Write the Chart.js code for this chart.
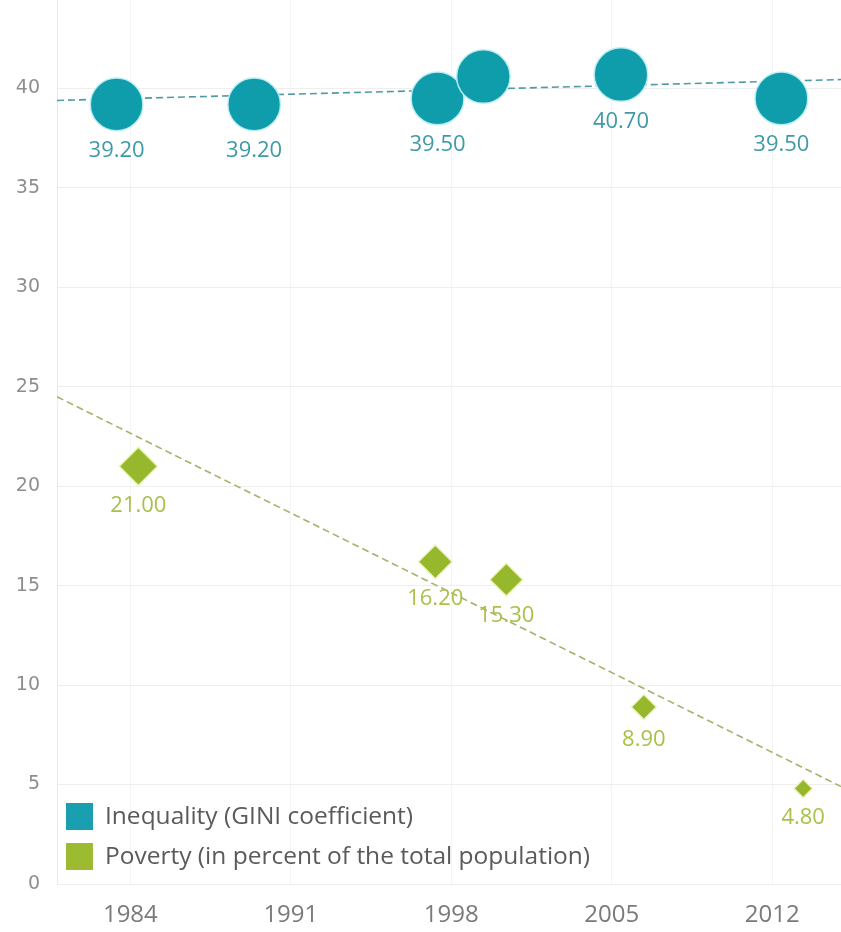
<!DOCTYPE html>
<html>
<head>
<meta charset="utf-8">
<script src="https://cdn.jsdelivr.net/npm/chart.js@4.4.1/dist/chart.umd.min.js"></script>
<style>
  html, body { margin: 0; padding: 0; background: #ffffff; }
  canvas { display: block; }
</style>
</head>
<body>
<canvas id="chart" width="841" height="932"></canvas>
<script>
// Survey years (fractional: survey date within the year) and values
const giniYears = [1983.4, 1989.4, 1997.4, 1999.4, 2005.4, 2012.4];
const giniValues = [39.2, 39.2, 39.5, 40.6, 40.7, 39.5];
const povertyYears = [1984.35, 1997.3, 2000.4, 2006.4, 2013.35];
const povertyValues = [21.0, 16.2, 15.3, 8.9, 4.8];

// Linear trend lines, start and end of the year range
const trendYears = [1980.8, 2015.0];
const giniTrend = [39.4, 40.45];
const povertyTrend = [24.5, 4.9];

// Axis ticks
const yearTicks = [1984, 1991, 1998, 2005, 2012];
const valueTicks = [0, 5, 10, 15, 20, 25, 30, 35, 40];

const seriesNames = ['Inequality (GINI coefficient)', 'Poverty (in percent of the total population)'];

const TEAL = '#0f9dab';
const GREEN = '#97b82c';

// marks are sized by value (area proportional to the value)
const markSize = v => 4.2 * Math.sqrt(v);

const toPoints = (xs, ys) => xs.map((x, i) => ({ x: x, y: ys[i] }));

function boxesOverlap(a, b) {
  return !(a.r < b.l || b.r < a.l || a.b < b.t || b.b < a.t);
}
function markHitsBox(m, box) {
  const nx = Math.max(box.l, Math.min(m.x, box.r));
  const ny = Math.max(box.t, Math.min(m.y, box.b));
  return Math.hypot(m.x - nx, m.y - ny) < m.r;
}

// value labels under each mark; a label that would collide is left out
const valueLabels = {
  id: 'valueLabels',
  afterDatasetsDraw(chart) {
    const ctx = chart.ctx;
    const marks = [];
    chart.data.datasets.forEach((ds, i) => {
      if (!ds.labelColor) return;
      chart.getDatasetMeta(i).data.forEach((el, j) => {
        marks.push({ x: el.x, y: el.y, r: el.options.radius, ds: i, j: j });
      });
    });
    const placed = [];
    ctx.save();
    ctx.font = '22px "Open Sans"';
    ctx.textAlign = 'center';
    ctx.textBaseline = 'middle';
    chart.data.datasets.forEach((ds, i) => {
      if (!ds.labelColor) return;
      chart.getDatasetMeta(i).data.forEach((el, j) => {
        const text = ds.data[j].y.toFixed(2);
        const cx = el.x;
        const cy = el.y + el.options.radius + 20;
        const w = ctx.measureText(text).width;
        const box = { l: cx - w / 2, r: cx + w / 2, t: cy - 9, b: cy + 9 };
        const hit = marks.some(m => !(m.ds === i && m.j === j) && markHitsBox(m, box)) ||
                    placed.some(p => boxesOverlap(p, box));
        if (hit) return;
        placed.push(box);
        ctx.fillStyle = ds.labelColor;
        ctx.fillText(text, cx, cy);
      });
    });
    ctx.restore();
  }
};

// colour legend inside the lower left corner of the plot
const insideLegend = {
  id: 'insideLegend',
  afterDraw(chart) {
    const { ctx, chartArea } = chart;
    const items = chart.data.datasets.filter(d => d.legendColor);
    ctx.save();
    ctx.font = '24.5px "Open Sans"';
    ctx.textAlign = 'left';
    ctx.textBaseline = 'middle';
    items.forEach((d, k) => {
      const top = chartArea.bottom - 81 + k * 40;
      ctx.fillStyle = d.legendColor;
      ctx.fillRect(chartArea.left + 9, top, 27, 27);
      ctx.fillStyle = '#5a5a5a';
      ctx.fillText(d.label, chartArea.left + 48, top + 14);
    });
    ctx.restore();
  }
};

new Chart(document.getElementById('chart'), {
  type: 'scatter',
  data: {
    datasets: [
      {
        label: seriesNames[0],
        data: toPoints(giniYears, giniValues),
        pointStyle: 'circle',
        backgroundColor: TEAL,
        borderColor: 'rgba(190,238,244,0.95)',
        borderWidth: 1.5,
        pointRadius: ctx => markSize(ctx.raw.y),
        pointHoverRadius: ctx => markSize(ctx.raw.y),
        labelColor: '#3f9aa7',
        legendColor: '#1a9fb0',
        order: 1
      },
      {
        label: seriesNames[1],
        data: toPoints(povertyYears, povertyValues),
        pointStyle: 'rectRot',
        backgroundColor: GREEN,
        borderColor: 'rgba(236,246,196,0.95)',
        borderWidth: 1.5,
        pointRadius: ctx => markSize(ctx.raw.y),
        pointHoverRadius: ctx => markSize(ctx.raw.y),
        labelColor: '#a8c14a',
        legendColor: '#9dbb30',
        order: 1
      },
      {
        type: 'line',
        label: 'GINI trend',
        data: toPoints(trendYears, giniTrend),
        borderColor: '#4f9aa4',
        borderWidth: 1.6,
        borderDash: [7, 4],
        pointRadius: 0,
        fill: false,
        order: 2
      },
      {
        type: 'line',
        label: 'Poverty trend',
        data: toPoints(trendYears, povertyTrend),
        borderColor: '#a9b06a',
        borderWidth: 1.6,
        borderDash: [7, 4],
        pointRadius: 0,
        fill: false,
        order: 2
      }
    ]
  },
  options: {
    responsive: false,
    animation: false,
    devicePixelRatio: 1,
    layout: { padding: 0, autoPadding: false },
    plugins: {
      legend: { display: false },
      tooltip: { enabled: false }
    },
    scales: {
      x: {
        type: 'linear',
        min: trendYears[0],
        max: trendYears[1],
        afterBuildTicks: s => { s.ticks = yearTicks.map(v => ({ value: v })); },
        afterFit: s => { s.height = 48; s.paddingLeft = 0; s.paddingRight = 0; },
        grid: { color: '#f4f4f4', drawTicks: false },
        border: { display: false },
        ticks: {
          padding: 17,
          color: '#7a7a7a',
          font: { family: '"Open Sans"', size: 24 },
          maxRotation: 0,
          autoSkip: false,
          callback: v => String(v)
        }
      },
      y: {
        type: 'linear',
        min: 0,
        max: 44.45,
        afterBuildTicks: s => { s.ticks = valueTicks.map(v => ({ value: v })); },
        afterFit: s => { s.width = 57; s.paddingTop = 0; s.paddingBottom = 0; },
        grid: { color: '#eeeeee', drawTicks: false },
        border: { display: true, color: '#eaeaea' },
        ticks: {
          padding: 17,
          color: '#8e8e8e',
          font: { family: '"DejaVu Sans"', size: 19 },
          callback: v => String(v)
        }
      }
    }
  },
  plugins: [valueLabels, insideLegend]
});
</script>
</body>
</html>
